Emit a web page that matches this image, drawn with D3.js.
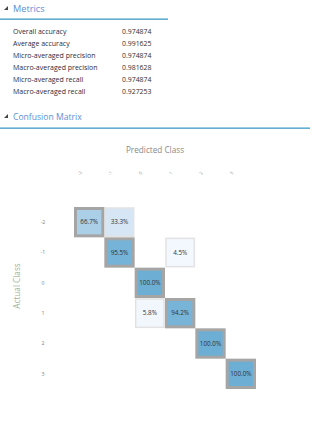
<!DOCTYPE html>
<html><head><meta charset="utf-8">
<script src="https://cdn.jsdelivr.net/npm/d3@7"></script>
<style>
body{margin:0;background:#fff;}
svg{display:block;font-family:"Open Sans",sans-serif;}
</style></head>
<body><svg id="c" width="321" height="429"></svg>
<script>
const metricNames = ["Overall accuracy","Average accuracy","Micro-averaged precision","Macro-averaged precision","Micro-averaged recall","Macro-averaged recall"];
const metricValues = ["0.974874","0.991625","0.974874","0.981628","0.974874","0.927253"];
const classes = ["-2","-1","0","1","2","3"];
// rows = actual class, columns = predicted class, percent
const matrix = [
  [66.7, 33.3, 0, 0, 0, 0],
  [0, 95.5, 0, 4.5, 0, 0],
  [0, 0, 100.0, 0, 0, 0],
  [0, 0, 5.8, 94.2, 0, 0],
  [0, 0, 0, 0, 100.0, 0],
  [0, 0, 0, 0, 0, 100.0]
];

const svg = d3.select("#c");
const headColor = "#5a8fd6";
const lineColor = "#3d9bc6";

function header(y, text, lineY, lineW, fs){
  svg.append("path").attr("d", `M${4},${y+1} L${8},${y-3} L${8},${y+1} Z`).attr("fill","#444");
  svg.append("text").attr("x",13).attr("y",y+2.5).attr("font-size",fs).attr("fill",headColor).text(text);
  svg.append("rect").attr("x",0).attr("y",lineY).attr("width",lineW).attr("height",1.3).attr("fill",lineColor);
}
header(9, "Metrics", 18.5, 168, 9.2);
header(117, "Confusion Matrix", 127.5, 310, 8.6);

const my = d3.scaleBand().domain(metricNames).range([25, 97]);
const mg = svg.append("g");
mg.selectAll("text.l").data(metricNames).join("text").attr("class","l")
  .attr("x",13).attr("y",d=>my(d)+my.bandwidth()/2+2.6).attr("font-size",7.0).attr("fill","#2e2a3a").text(d=>d);
mg.selectAll("text.v").data(metricValues).join("text").attr("class","v")
  .attr("x",122).attr("y",(d,i)=>my(metricNames[i])+my.bandwidth()/2+2.6).attr("font-size",6.9).attr("fill","#2e2e2e").text(d=>d);

const x = d3.scaleBand().domain(classes).range([74, 256]);
const y = d3.scaleBand().domain(classes).range([207, 389]);
const color = d3.scaleSequential(t=>d3.interpolateBlues(t*0.5)).domain([0,100]);

svg.append("text").attr("x",155).attr("y",153).attr("text-anchor","middle").attr("font-size",8.2).attr("fill","#8a8a8a").text("Predicted Class");
svg.append("text").attr("transform","translate(20,286) rotate(-90)").attr("text-anchor","middle").attr("font-size",8.2).attr("fill","#9fb39a").text("Actual Class");

// column labels (rotated, tiny)
svg.append("g").selectAll("text").data(classes).join("text")
  .attr("transform", d=>`translate(${x(d)+x.bandwidth()/2-8},${174}) rotate(-60)`)
  .attr("text-anchor","middle").attr("font-size",4.5).attr("fill","#999").text(d=>d);

// row labels via axis
const ax = svg.append("g").attr("transform","translate(43,0)").call(d3.axisLeft(y).tickSize(0).tickPadding(0));
ax.select(".domain").remove();
ax.selectAll("text").attr("font-size",5.2).attr("fill","#808080").attr("font-family","Open Sans, sans-serif").attr("text-anchor","middle");

const cells = [];
matrix.forEach((row,i)=>row.forEach((v,j)=>{ if(v>0) cells.push({r:classes[i], c:classes[j], v, diag:i===j}); }));

const cg = svg.append("g");
const off = cells.filter(d=>!d.diag), dia = cells.filter(d=>d.diag);
cg.selectAll("rect.o").data(off).join("rect").attr("class","o")
  .attr("x",d=>x(d.c)+1).attr("y",d=>y(d.r)+1).attr("width",x.bandwidth()-2).attr("height",y.bandwidth()-2)
  .attr("fill",d=>color(d.v)).attr("stroke","#e2e2e2").attr("stroke-width",1.5);
cg.selectAll("rect.d").data(dia).join("rect").attr("class","d")
  .attr("x",d=>x(d.c)+1.5).attr("y",d=>y(d.r)+1.5).attr("width",x.bandwidth()-3).attr("height",y.bandwidth()-3)
  .attr("fill",d=>color(d.v)).attr("stroke","#a5a5a5").attr("stroke-width",3);
cg.selectAll("text").data(cells).join("text")
  .attr("x",d=>x(d.c)+x.bandwidth()/2).attr("y",d=>y(d.r)+y.bandwidth()/2+2.3)
  .attr("text-anchor","middle").attr("font-size",6.3).attr("fill","#333").text(d=>d.v.toFixed(1)+"%");
</script></body></html>
